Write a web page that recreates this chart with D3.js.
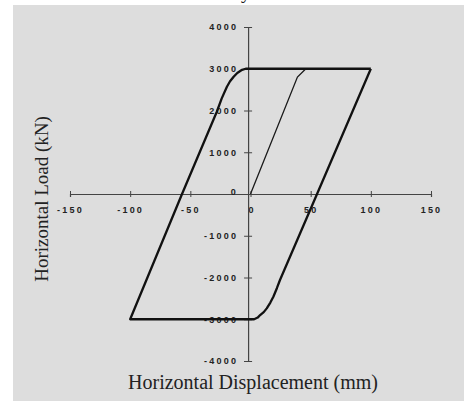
<!DOCTYPE html>
<html>
<head>
<meta charset="utf-8">
<script src="https://cdn.jsdelivr.net/npm/d3@7"></script>
<style>
  body { margin: 0; background: #fff; }
  svg { display: block; }
</style>
</head>
<body>
<div id="chart"></div>
<script>
// hysteresis loop, displacement in mm / load in kN
var loopDisp = [100, 55.3, 24.5, 22, 19, 16.5, 13.5, 11, 8, 6, 3, -100, -56.9, -28, -23.9, -19.6, -17, -14, -11, -7, -4, 100];
var loopLoad = [3000, 0, -2060, -2250, -2460, -2600, -2740, -2830, -2900, -2960, -3000, -3000, 0, 1970, 2290, 2570, 2700, 2810, 2900, 2975, 3000, 3000];
var initDisp = [0, 39, 46];
var initLoad = [0, 2800, 3000];

var xTicks = [-150, -100, -50, 0, 50, 100, 150];
var yTicks = [-4000, -3000, -2000, -1000, 0, 1000, 2000, 3000, 4000];

var width = 464, height = 402;

var svg = d3.select("#chart").append("svg")
    .attr("width", width)
    .attr("height", height);

// grey scanned panel
svg.append("rect")
    .attr("x", 13).attr("y", 5)
    .attr("width", width - 13).attr("height", height - 6)
    .style("fill", "#dddddd");

// clipped title fragment at the top edge
svg.append("text")
    .attr("x", 241).attr("y", -1)
    .style("font-family", "'Liberation Serif', serif")
    .style("font-size", "19px")
    .style("fill", "#222")
    .text("y");

var x = d3.scaleLinear().domain([-150, 150]).range([70, 431]);
var y = d3.scaleLinear().domain([-4000, 4000]).range([361, 27]);

var tickFont = function(sel) {
    sel.selectAll("text")
        .style("font-family", "'Liberation Sans', Arial, sans-serif")
        .style("font-size", "9px")
        .style("font-weight", "bold")
        .style("letter-spacing", "2.2px")
        .style("fill", "#222");
};

var xAxis = svg.append("g")
    .attr("transform", "translate(0," + y(0) + ")")
    .call(d3.axisBottom(x).tickValues(xTicks).tickSizeOuter(0).tickSize(3).tickPadding(10)
        .tickFormat(function(d) { return d; }));
xAxis.select(".domain").style("stroke", "#444").style("stroke-width", 1.2);
xAxis.selectAll(".tick line").attr("y1", -3).attr("y2", 3).style("stroke", "#444");
xAxis.call(tickFont);

var yAxis = svg.append("g")
    .attr("transform", "translate(" + x(-2) + ",0)")
    .call(d3.axisLeft(y).tickValues(yTicks).tickSizeOuter(0).tickSize(4).tickPadding(6)
        .tickFormat(function(d) { return d; }));
yAxis.select(".domain").style("stroke", "#444").style("stroke-width", 1.2);
yAxis.selectAll(".tick line").attr("x1", -4).attr("x2", 4).style("stroke", "#444");
yAxis.call(tickFont);
yAxis.selectAll(".tick").filter(function(d) { return d === 0; }).select("text")
    .attr("dy", "0.1em");
xAxis.selectAll(".tick").filter(function(d) { return d === 0; }).select("text")
    .attr("x", 1);

var line = d3.line()
    .x(function(d) { return x(d[0]); })
    .y(function(d) { return y(d[1]); });

var loop = loopDisp.map(function(d, i) { return [d, loopLoad[i]]; });
var init = initDisp.map(function(d, i) { return [d, initLoad[i]]; });

svg.append("path")
    .datum(init)
    .attr("d", line)
    .style("fill", "none")
    .style("stroke", "#1a1a1a")
    .style("stroke-width", 1.3);

svg.append("path")
    .datum(loop)
    .attr("d", line)
    .style("fill", "none")
    .style("stroke", "#111")
    .style("stroke-width", 2.3)
    .style("stroke-linejoin", "round");

// axis titles
svg.append("text")
    .attr("x", 253).attr("y", 389)
    .attr("text-anchor", "middle")
    .style("font-family", "'Liberation Serif', 'Times New Roman', serif")
    .style("font-size", "20px")
    .style("fill", "#222")
    .text("Horizontal Displacement (mm)");

svg.append("text")
    .attr("transform", "translate(48,199) rotate(-90)")
    .attr("text-anchor", "middle")
    .style("font-family", "'Liberation Serif', 'Times New Roman', serif")
    .style("font-size", "19px")
    .style("fill", "#222")
    .text("Horizontal Load (kN)");
</script>
</body>
</html>
